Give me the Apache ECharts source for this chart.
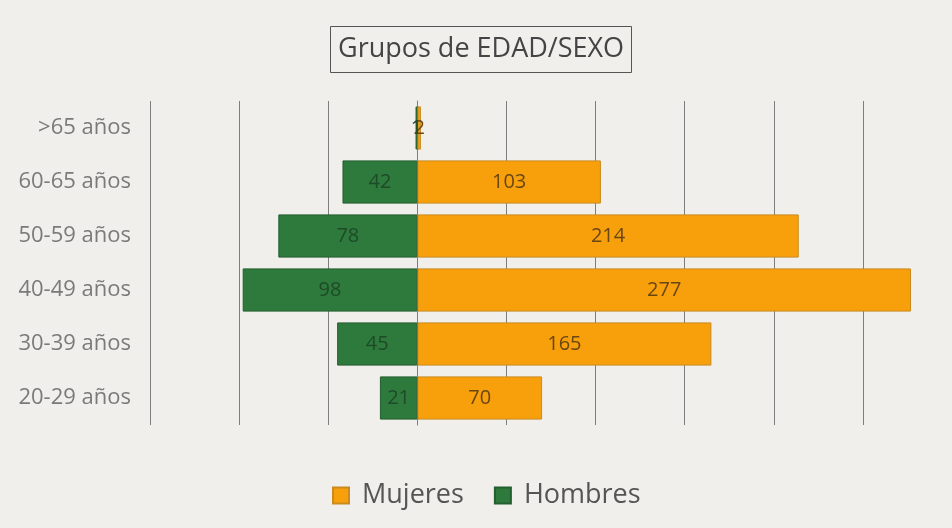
<!DOCTYPE html>
<html>
<head>
<meta charset="utf-8">
<script src="https://cdn.jsdelivr.net/npm/echarts@6/dist/echarts.min.js"></script>
<style>
html,body{margin:0;padding:0;background:#f1efec;}
#chart{width:952px;height:528px;}
</style>
</head>
<body>
<div id="chart"></div>
<script>
const categories = ['20-29 años', '30-39 años', '40-49 años', '50-59 años', '60-65 años', '>65 años'];
const mujeres = [70, 165, 277, 214, 103, 2];
const hombres = [21, 45, 98, 78, 42, 1];
const titleText = 'Grupos de EDAD/SEXO';

const chart = echarts.init(document.getElementById('chart'));
chart.setOption({
  backgroundColor: '#f1efec',
  animation: false,
  title: {
    text: titleText,
    left: 330,
    top: 26,
    padding: [10, 8],
    borderColor: '#555',
    borderWidth: 1,
    textStyle: { fontFamily: 'Open Sans', fontSize: 27, fontWeight: 'normal', color: '#444' }
  },
  legend: {
    top: 477,
    left: 327,
    itemWidth: 16,
    itemHeight: 16,
    itemGap: 30,
    icon: 'rect',
    textStyle: { fontFamily: 'Open Sans', fontSize: 27, color: '#555', padding: [0, 0, 0, 8] },
    data: ['Mujeres', 'Hombres']
  },
  grid: { left: 150, top: 101, height: 324, width: 802 },
  xAxis: {
    type: 'value',
    min: -150,
    max: 300,
    interval: 50,
    axisLabel: { show: false },
    axisLine: { show: false },
    axisTick: { show: false },
    splitLine: { lineStyle: { color: '#7e7e7e', width: 1 } }
  },
  yAxis: {
    type: 'category',
    data: categories,
    axisLine: { lineStyle: { color: '#7e7e7e' } },
    axisTick: { show: false },
    axisLabel: { margin: 19, fontFamily: 'Open Sans', fontSize: 22, color: '#7a7a7a' }
  },
  series: [
    {
      name: 'Mujeres',
      type: 'bar',
      stack: 'total',
      barCategoryGap: '20%',
      data: mujeres,
      itemStyle: { color: '#f7a00c', borderColor: '#c98a20', borderWidth: 1 },
      label: { show: true, position: 'inside', fontFamily: 'Open Sans', fontSize: 20, color: '#6a4612' }
    },
    {
      name: 'Hombres',
      type: 'bar',
      stack: 'total',
      barCategoryGap: '20%',
      data: hombres.map(v => -v),
      itemStyle: { color: '#2d7a3c', borderColor: '#245f30', borderWidth: 1 },
      label: { show: true, position: 'inside', fontFamily: 'Open Sans', fontSize: 20, color: '#1f4a27',
        formatter: p => Math.abs(p.value) }
    }
  ]
});
</script>
</body>
</html>
